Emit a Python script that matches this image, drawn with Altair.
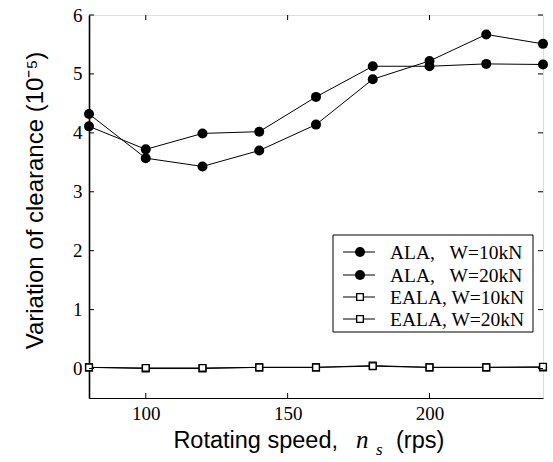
import altair as alt
import pandas as pd

# ---- data ----
speed = [80, 100, 120, 140, 160, 180, 200, 220, 240]
ala_10 = [4.11, 3.72, 3.99, 4.02, 4.61, 5.13, 5.13, 5.17, 5.16]
ala_20 = [4.32, 3.57, 3.43, 3.70, 4.14, 4.91, 5.22, 5.67, 5.51]
eala_10 = [0.02, 0.00, 0.00, 0.02, 0.02, 0.05, 0.02, 0.02, 0.02]
eala_20 = [0.02, 0.01, 0.01, 0.02, 0.02, 0.04, 0.02, 0.02, 0.03]
series_labels = ["ALA,\u00a0\u00a0\u00a0W=10kN", "ALA,\u00a0\u00a0\u00a0W=20kN",
                 "EALA, W=10kN", "EALA, W=20kN"]
x_ticks = [100, 150, 200]
y_ticks = [0, 1, 2, 3, 4, 5, 6]

W, H = 454, 383
serif = "Liberation Serif"
sans = "Liberation Sans"

rows = []
for lab, vals, kind in zip(series_labels, [ala_10, ala_20, eala_10, eala_20],
                           ["ALA", "ALA", "EALA", "EALA"]):
    for s, v in zip(speed, vals):
        rows.append({"speed": s, "val": v, "series": lab, "kind": kind})
df = pd.DataFrame(rows)

xs = alt.Scale(domain=[80, 240], nice=False, zero=False)
ys = alt.Scale(domain=[-0.5, 6], nice=False, zero=False)

x_axis = alt.Axis(values=x_ticks, title=None, tickSize=0, domain=True, domainColor="black",
                  domainWidth=1.2, grid=False,
                  labelFont=serif, labelFontSize=19, labelColor="black",
                  labelPadding=6, format="d")
y_axis = alt.Axis(values=y_ticks, tickSize=0, domain=True, domainColor="black", domainWidth=1.6,
                  grid=False,
                  labelFont=serif, labelFontSize=19, labelColor="black",
                  labelPadding=7, format="d",
                  title="Variation of clearance (10\u207b\u2075)",
                  titleFont=sans, titleFontSize=24, titleFontWeight="normal",
                  titleColor="black", titleX=-54, titleY=185, titleAngle=270,
                  titleAlign="center", titleBaseline="middle")

X = alt.X("speed:Q", scale=xs, axis=x_axis)
Y = alt.Y("val:Q", scale=ys, axis=y_axis)

base = alt.Chart(df)
lines = base.mark_line(color="black", strokeWidth=1).encode(x=X, y=Y, detail="series:N")
ala_pts = base.transform_filter(alt.datum.kind == "ALA").mark_point(
    shape="circle", filled=True, color="black", size=100, opacity=1
).encode(x=X, y=Y)
eala_pts = base.transform_filter(alt.datum.kind == "EALA").mark_point(
    shape="square", filled=True, fill="white", stroke="black", strokeWidth=1.4, size=45, opacity=1
).encode(x=X, y=Y)

# inward ticks (MATLAB style) on all four sides
tx = alt.Chart(pd.DataFrame({"speed": x_ticks}))
ty = alt.Chart(pd.DataFrame({"val": y_ticks}))
tick_layers = [
    tx.mark_rule(color="black").encode(x=X, y=alt.value(H), y2=alt.value(H - 5)),
    tx.mark_rule(color="black").encode(x=X, y=alt.value(0), y2=alt.value(5)),
    ty.mark_rule(color="black").encode(y=Y, x=alt.value(0), x2=alt.value(5)),
    ty.mark_rule(color="black").encode(y=Y, x=alt.value(W), x2=alt.value(W - 5)),
]

# x title pieces
one = pd.DataFrame({"a": [0]})
xt = [
    alt.Chart(one).mark_text(text="Rotating speed,", font=sans, fontSize=23.5, align="right",
                             baseline="alphabetic", color="black").encode(x=alt.value(249), y=alt.value(433)),
    alt.Chart(one).mark_text(text="n", font=serif, fontSize=25, fontStyle="italic", align="left",
                             baseline="alphabetic", color="black").encode(x=alt.value(267), y=alt.value(433)),
    alt.Chart(one).mark_text(text="s", font=serif, fontSize=17, fontStyle="italic", align="left",
                             baseline="alphabetic", color="black").encode(x=alt.value(287), y=alt.value(440)),
    alt.Chart(one).mark_text(text="(rps)", font=sans, fontSize=23.5, align="left",
                             baseline="alphabetic", color="black").encode(x=alt.value(307), y=alt.value(433)),
]

# legend
lx0, lx1, ly0, ly1 = 244, 444, 220, 317
legend = [alt.Chart(one).mark_rect(fill="white", stroke="black", strokeWidth=1).encode(
    x=alt.value(lx0), x2=alt.value(lx1), y=alt.value(ly0), y2=alt.value(ly1))]
row_y = [237, 260, 282, 304]
for lab, py, kind in zip(series_labels, row_y, ["ALA", "ALA", "EALA", "EALA"]):
    d = pd.DataFrame({"label": [lab]})
    legend.append(alt.Chart(d).mark_rule(color="black", strokeWidth=1).encode(
        x=alt.value(254), x2=alt.value(286), y=alt.value(py)))
    if kind == "ALA":
        legend.append(alt.Chart(d).mark_point(shape="circle", filled=True, color="black", size=100,
                                              opacity=1).encode(x=alt.value(271), y=alt.value(py)))
    else:
        legend.append(alt.Chart(d).mark_point(shape="square", filled=True, fill="white", stroke="black",
                                              strokeWidth=1.4, size=45, opacity=1).encode(
            x=alt.value(271), y=alt.value(py)))
    legend.append(alt.Chart(d).mark_text(font=serif, fontSize=19.5, align="left", baseline="middle",
                                         color="black").encode(
        text="label:N", x=alt.value(301), y=alt.value(py + 1)))

chart = alt.layer(lines, eala_pts, ala_pts, *tick_layers, *xt, *legend).properties(
    width=W, height=H,
    autosize=alt.AutoSizeParams(type="none"),
    padding={"left": 89, "top": 15, "right": 10, "bottom": 64},
).configure_view(stroke="black", strokeWidth=1.2).configure(background="white")

chart.save("out.html", embed_options={"renderer": "svg", "actions": False})
